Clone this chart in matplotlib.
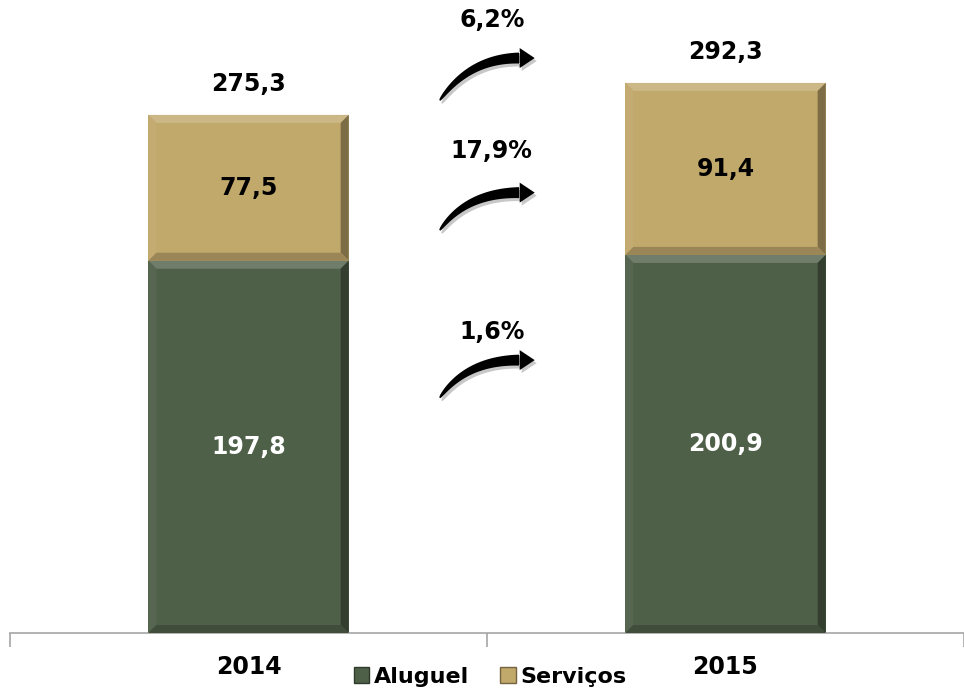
import numpy as np
import matplotlib
matplotlib.use("Agg")
import matplotlib.pyplot as plt
from matplotlib.patches import Polygon, Patch
from matplotlib.transforms import IdentityTransform
import matplotlib.colors as mcolors

# data
years = ["2014", "2015"]
aluguel = [197.8, 200.9]
servicos = [77.5, 91.4]
totais = [275.3, 292.3]
growth_labels = ["6,2%", "17,9%", "1,6%"]
series_names = ["Aluguel", "Serviços"]

green = "#4f6049"
tan = "#c1a86b"
fnt = ["DejaVu Sans"]
fs = 17

fig = plt.figure(figsize=(9.64, 6.92), dpi=100)
ax = fig.add_axes([10 / 964, 59 / 692, 954 / 964, 633 / 692])
x = np.arange(len(years))
w = 0.42

def shade(c, f):
    r = np.array(mcolors.to_rgb(c))
    if f > 0:
        r = r + (1 - r) * f
    else:
        r = r * (1 + f)
    return tuple(np.clip(r, 0, 1))

def bevel(ax, x0, y0, bw, bh, color, bpx=8):
    # bevel size in data units from pixel size
    inv = ax.transData.inverted()
    p0 = inv.transform(ax.transData.transform((x0, y0)) + [bpx, bpx])
    dx, dy = p0[0] - x0, p0[1] - y0
    x1, y1 = x0 + bw, y0 + bh
    faces = [
        ([(x0, y1), (x1, y1), (x1 - dx, y1 - dy), (x0 + dx, y1 - dy)], shade(color, 0.18)),
        ([(x0, y0), (x0 + dx, y0 + dy), (x0 + dx, y1 - dy), (x0, y1)], shade(color, 0.04)),
        ([(x1, y0), (x1, y1), (x1 - dx, y1 - dy), (x1 - dx, y0 + dy)], shade(color, -0.35)),
        ([(x0, y0), (x1, y0), (x1 - dx, y0 + dy), (x0 + dx, y0 + dy)], shade(color, -0.2)),
    ]
    for pts, c in faces:
        ax.add_patch(Polygon(pts, closed=True, facecolor=c, edgecolor="none", zorder=3))

def curved_arrow(ax, p_tail, p_tip, color, off=(0, 0), zorder=4, head_len=15, head_w=20, shaft_w=11):
    # tapered curved arrow, built in pixel space
    a = ax.transData.transform(p_tail) + off
    tip = ax.transData.transform(p_tip) + off
    b = tip - [head_len, 0]
    ctrl = np.array([a[0] + (b[1] - a[1]) / np.tan(np.radians(55)), b[1]])
    t = np.linspace(0, 1, 40)[:, None]
    pts = (1 - t) ** 2 * a + 2 * (1 - t) * t * ctrl + t ** 2 * b
    d = 2 * (1 - t) * (ctrl - a) + 2 * t * (b - ctrl)
    d = d / np.linalg.norm(d, axis=1, keepdims=True)
    nrm = np.column_stack([-d[:, 1], d[:, 0]])
    hw = (0.7 + (shaft_w / 2 - 0.7) * t[:, 0] ** 0.55)[:, None]
    upper = pts + nrm * hw
    lower = pts - nrm * hw
    head = np.array([[b[0], b[1] + head_w / 2], tip, [b[0], b[1] - head_w / 2]])
    poly = np.vstack([lower, head, upper[::-1]])
    ax.add_patch(Polygon(poly, closed=True, facecolor=color, edgecolor="none",
                         transform=IdentityTransform(), zorder=zorder))

ax.set_xlim(-0.5, 1.5)
ax.set_ylim(0, 633 / 1.882)

b1 = ax.bar(x, aluguel, w, color=green, zorder=2)
b2 = ax.bar(x, servicos, w, bottom=aluguel, color=tan, zorder=2)
for bars in (b1, b2):
    for r in bars:
        bevel(ax, r.get_x(), r.get_y(), r.get_width(), r.get_height(), r.get_facecolor())

for i in range(len(years)):
    ax.text(x[i], aluguel[i] / 2, f"{aluguel[i]:.1f}".replace(".", ","), ha="center", va="center",
            color="white", fontsize=fs, fontweight="bold", family=fnt, zorder=5)
    ax.text(x[i], aluguel[i] + servicos[i] / 2, f"{servicos[i]:.1f}".replace(".", ","), ha="center",
            va="center", color="black", fontsize=fs, fontweight="bold", family=fnt, zorder=5)
    ax.annotate(f"{totais[i]:.1f}".replace(".", ","), (x[i], totais[i]), xytext=(0, 31),
                textcoords="offset pixels", ha="center", va="center", fontsize=fs,
                fontweight="bold", family=fnt)

# growth arrows between the bars
label_y = [325.7, 256, 160]
arrow_y = [(283, 305.5), (214, 234), (125, 145)]
for lab, ly, (ya, yb) in zip(growth_labels, label_y, arrow_y):
    ax.text(0.51, ly, lab, ha="center", va="center", fontsize=fs, fontweight="bold", family=fnt)
    curved_arrow(ax, (0.401, ya), (0.6, yb), "#c8c8c8", off=(2, -3), zorder=3)
    curved_arrow(ax, (0.401, ya), (0.6, yb), "black", zorder=4)

# axes styling
for s in ("top", "right", "left"):
    ax.spines[s].set_visible(False)
ax.spines["bottom"].set_color("#a6a6a6")
ax.spines["bottom"].set_linewidth(1.2)
ax.set_yticks([])
ax.set_xticks([-0.5, 0.5, 1.5])
ax.set_xticklabels([])
ax.tick_params(axis="x", length=10, color="#a6a6a6", width=1.2)
for i, yr in enumerate(years):
    ax.text(x[i], -34 / 1.882, yr, ha="center", va="center", fontsize=fs, fontweight="bold", family=fnt)

handles = [Patch(facecolor=green, edgecolor=shade(green, -0.4)), Patch(facecolor=tan, edgecolor=shade(tan, -0.4))]
fig.legend(handles, series_names, loc="center", bbox_to_anchor=(490 / 964, 1 - 677 / 692), ncol=2,
           frameon=False, prop={"family": fnt, "size": 16, "weight": "bold"},
           handlelength=0.7, handleheight=0.7, handletextpad=0.2, columnspacing=1.4)

fig.savefig("out.png", dpi=100)
